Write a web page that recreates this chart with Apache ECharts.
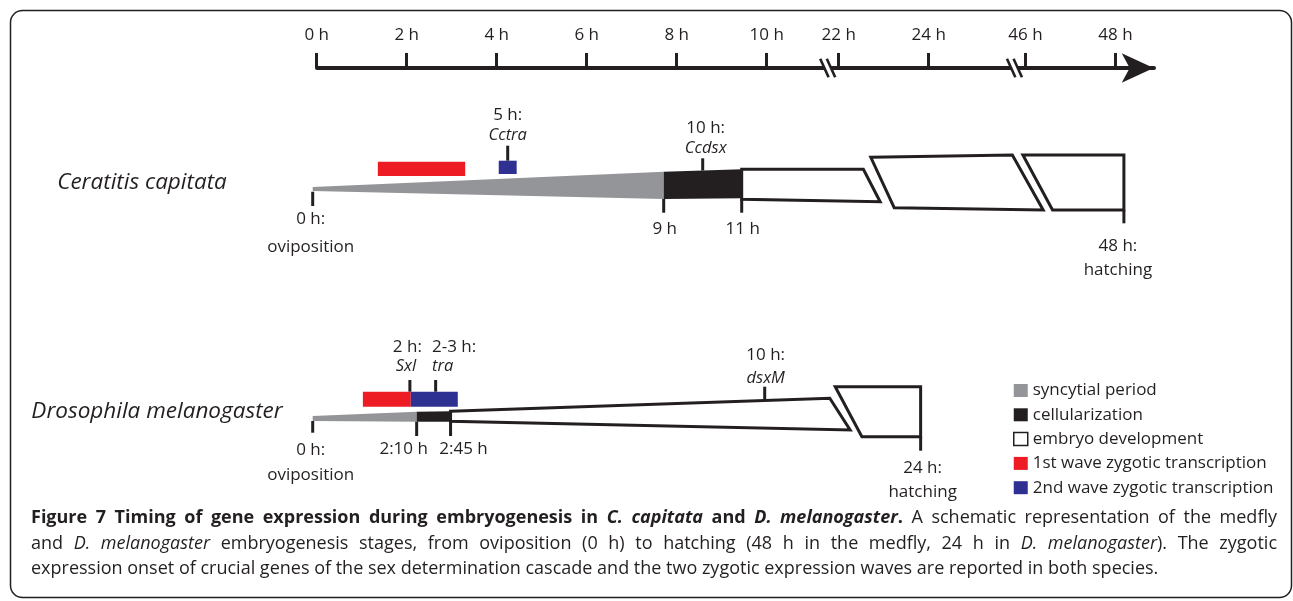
<!DOCTYPE html>
<html><head><meta charset="utf-8">
<script src="https://cdn.jsdelivr.net/npm/echarts@6/dist/echarts.min.js"></script>
<style>html,body{margin:0;padding:0;background:#fff}#c{width:1293px;height:601px}</style>
</head><body><div id="c"></div>
<script>
// ================= DATA =================
// Top reference time axis (hours after oviposition), broken 10–22 h and 24–46 h
const timeTicks = [0, 2, 4, 6, 8, 10, 22, 24, 46, 48];
const timeBreaks = [[10, 22], [24, 46]];

const legendNames = ['syncytial period', 'cellularization', 'embryo development',
  '1st wave zygotic transcription', '2nd wave zygotic transcription'];

// Ceratitis capitata (medfly) — x: hours on its schematic, y: body thickness units
const ccName = 'Ceratitis capitata';
const ccSyncytial = [[0, -2, 9, 13.3, 9, -14, 0, -6]];
const ccCellularization = [[9, 13.3, 11, 15.7, 11, -13.3, 9, -14]];
const ccDevelopment = [
  [11, 15.7, 14.12, 15.7, 14.55, -16.7, 11, -14.3],
  [14.31, 27.7, 17.94, 30, 18.73, -25, 14.91, -22.7],
  [18.21, 30, 20.8, 30, 20.8, -25, 18.97, -25]
];
const ccWave1 = [[1.67, 3.91]];
const ccWave2 = [[4.77, 5.23]];
const ccGeneHours = [5, 10];
const ccGeneTimes = ['5 h:', '10 h:'];
const ccGeneNames = ['Cctra', 'Ccdsx'];
const ccStageHours = [0, 9, 11, 20.8];
const ccStageLabels = [['0 h:', 'oviposition'], ['9 h'], ['11 h'], ['48 h:', 'hatching']];

// Drosophila melanogaster
const dmName = 'Drosophila melanogaster';
const dmSyncytial = [[0, 1, 2.3, 5.3, 2.3, -4.7, 0, -4]];
const dmCellularization = [[2.3, 5.3, 3.05, 5.8, 3.05, -4.7, 2.3, -4.7]];
const dmDevelopment = [
  [3.05, 5.8, 11.44, 18.7, 11.89, -13, 3.05, -4.3],
  [11.56, 30.3, 13.45, 30.3, 13.45, -19.7, 12.15, -19.7]
];
const dmWave1 = [[1.11, 2.17]];
const dmWave2 = [[2.17, 3.21]];
const dmGeneHours = [2.15, 2.72, 10];
const dmGeneTimes = ['2 h:', '2-3 h:', '10 h:'];
const dmGeneNames = ['Sxl', 'tra', 'dsxM'];
const dmStageHours = [0, 2.3, 3.05, 13.45];
const dmStageLabels = [['0 h:', 'oviposition'], ['2:10 h'], ['2:45 h'], ['24 h:', 'hatching']];

const captionRuns = [
  [['b', 'Figure 7 Timing of gene expression during embryogenesis in '], ['bi', 'C. capitata'], ['b', ' and '], ['bi', 'D. melanogaster'], ['b', '.'], ['r', ' A schematic representation of the medfly']],
  [['r', 'and '], ['i', 'D. melanogaster'], ['r', ' embryogenesis stages, from oviposition (0 h) to hatching (48 h in the medfly, 24 h in '], ['i', 'D. melanogaster'], ['r', '). The zygotic']],
  [['r', 'expression onset of crucial genes of the sex determination cascade and the two zygotic expression waves are reported in both species.']]
];

// ================= STYLE / LAYOUT =================
const FF = "'Open Sans'";
const INK = '#231f20', GREY = '#939598', RED = '#ed1c24', BLUE = '#2e3192';
const REG = "17px " + FF, ITAL = "italic 16.5px " + FF;

const L = {
  cc: {
    grid: { left: 312.7, top: 100, width: 858, height: 170 }, xMax: 22, yMax: 85,
    band1: [9, 23.3], band2: [11, 24.3],
    geneTick: [[24.3, 39.3], [14.5, 26.7]],
    geneTextY: [[70, 50], [56.7, 36.7]],
    geneDx: [[0, 0], [3, 3]],
    stageTick: [[-6.7, -21], [-14, -27.7], [-14, -27.7], [-25, -38.3]],
    stageTextY: [[-34, -62], [-44], [-44], [-61, -85]],
    stageDx: [-2, 1, 1, -6]
  },
  dm: {
    grid: { left: 312.7, top: 330, width: 632.8, height: 174 }, xMax: 14, yMax: 87,
    band1: [10.3, 25.3], band2: [10.3, 25.3],
    geneTick: [[25.3, 37], [25.3, 37], [17, 30.3]],
    geneTextY: [[69.5, 50.3], [69.5, 50.3], [62, 38.7]],
    geneDx: [[-2.5, -4], [18.5, 7], [1, 1]],
    stageTick: [[-4, -15.7], [-4.7, -19], [-4.3, -19], [-19.7, -33.7]],
    stageTextY: [[-33, -58], [-32.3], [-32.3], [-51, -75.5]],
    stageDx: [-2, -13, 13, 2]
  }
};

function txtStyle(text, font, align) {
  return { text, font, fill: INK, align: align || 'center', verticalAlign: 'middle',
    textAlign: align || 'center', textVerticalAlign: 'middle' };
}

function polygonSeries(name, gi, polys, fill, stroke) {
  return {
    type: 'custom', name, coordinateSystem: 'cartesian2d', xAxisIndex: gi, yAxisIndex: gi,
    itemStyle: { color: fill, borderColor: stroke || fill }, clip: false, silent: true,
    z: stroke ? 3 : 2, data: polys,
    renderItem(params, api) {
      const pts = [];
      for (let k = 0; k < 4; k++) pts.push(api.coord([api.value(2 * k), api.value(2 * k + 1)]));
      return { type: 'polygon', shape: { points: pts },
        style: { fill, stroke: stroke || null, lineWidth: stroke ? 3 : 0, lineJoin: 'miter' } };
    }
  };
}

function bandSeries(name, gi, spans, color, band) {
  return {
    type: 'custom', name, coordinateSystem: 'cartesian2d', xAxisIndex: gi, yAxisIndex: gi,
    itemStyle: { color }, clip: false, silent: true, z: 4, data: spans,
    renderItem(params, api) {
      const a = api.coord([api.value(0), band[1]]);
      const b = api.coord([api.value(1), band[0]]);
      return { type: 'rect', shape: { x: a[0], y: a[1], width: b[0] - a[0], height: b[1] - a[1] },
        style: { fill: color } };
    }
  };
}

function geneSeries(gi, hours, times, genes, R) {
  return {
    type: 'custom', name: 'gene onset', coordinateSystem: 'cartesian2d', xAxisIndex: gi, yAxisIndex: gi,
    clip: false, silent: true, z: 5, data: hours.map(h => [h]),
    renderItem(params, api) {
      const i = params.dataIndex, h = api.value(0);
      const a = api.coord([h, R.geneTick[i][0]]), b = api.coord([h, R.geneTick[i][1]]);
      const t1 = api.coord([h, R.geneTextY[i][0]]), t2 = api.coord([h, R.geneTextY[i][1]]);
      return { type: 'group', children: [
        { type: 'line', shape: { x1: a[0], y1: a[1], x2: b[0], y2: b[1] }, style: { stroke: INK, lineWidth: 3 } },
        { type: 'text', x: t1[0] + R.geneDx[i][0], y: t1[1], style: txtStyle(times[i], REG) },
        { type: 'text', x: t2[0] + R.geneDx[i][1], y: t2[1], style: txtStyle(genes[i], ITAL) }
      ] };
    }
  };
}

function stageSeries(gi, hours, labels, R) {
  return {
    type: 'custom', name: 'stage marks', coordinateSystem: 'cartesian2d', xAxisIndex: gi, yAxisIndex: gi,
    clip: false, silent: true, z: 5, data: hours.map(h => [h]),
    renderItem(params, api) {
      const i = params.dataIndex, h = api.value(0);
      const a = api.coord([h, R.stageTick[i][0]]), b = api.coord([h, R.stageTick[i][1]]);
      const ch = [{ type: 'line', shape: { x1: a[0], y1: a[1], x2: b[0], y2: b[1] }, style: { stroke: INK, lineWidth: 3 } }];
      labels[i].forEach((s, k) => {
        const p = api.coord([h, R.stageTextY[i][k]]);
        ch.push({ type: 'text', x: p[0] + R.stageDx[i], y: p[1], style: txtStyle(s, REG) });
      });
      return { type: 'group', children: ch };
    }
  };
}

// --------- caption layout (justified, measured) ---------
const mctx = document.createElement('canvas').getContext('2d');
function fontFor(st, size) {
  return (st.includes('i') ? 'italic ' : '') + (st.includes('b') ? 'bold ' : '') + size + 'px ' + FF;
}
function measure(t, f) { mctx.font = f; return mctx.measureText(t).width; }
function splitWords(runs) {
  const words = []; let cur = [];
  runs.forEach(([st, t]) => {
    t.split(' ').forEach((p, i) => {
      if (i > 0) { if (cur.length) words.push(cur); cur = []; }
      if (p) cur.push([st, p]);
    });
  });
  if (cur.length) words.push(cur);
  return words;
}
const capX0 = 31, capX1 = 1277, capLastW = 1166, capY = [518, 543.5, 569];
const capWords = captionRuns.map(splitWords);
function lineWidth(words, size) {
  let w = 0;
  words.forEach(wd => wd.forEach(([st, t]) => { w += measure(t, fontFor(st, size)); }));
  return w + (words.length - 1) * measure(' ', fontFor('r', size));
}
let capSize = 16 * capLastW / lineWidth(capWords[2], 16);
capSize = Math.max(13, Math.min(18, capSize));
const captionEls = [];
capWords.forEach((words, li) => {
  let sum = 0;
  words.forEach(wd => wd.forEach(([st, t]) => { sum += measure(t, fontFor(st, capSize)); }));
  const gap = li < 2 ? (capX1 - capX0 - sum) / (words.length - 1) : measure(' ', fontFor('r', capSize));
  let x = capX0;
  words.forEach(wd => {
    wd.forEach(([st, t]) => {
      const f = fontFor(st, capSize);
      captionEls.push({ type: 'text', x, y: capY[li], style: txtStyle(t, f, 'left') });
      x += measure(t, f);
    });
    x += gap;
  });
});

// ================= CHART =================
const chart = echarts.init(document.getElementById('c'));
const hiddenX = (gi, max) => ({ gridIndex: gi, type: 'value', min: 0, max, show: false, splitLine: { show: false } });
const hiddenY = (gi, m) => ({ gridIndex: gi, type: 'value', min: -m, max: m, show: false, splitLine: { show: false } });

const option = {
  animation: false,
  backgroundColor: '#fff',
  textStyle: { fontFamily: FF },
  grid: [
    { left: 316.7, top: 68, width: 837, height: 20, outerBoundsMode: 'none' },
    Object.assign({ outerBoundsMode: 'none' }, L.cc.grid),
    Object.assign({ outerBoundsMode: 'none' }, L.dm.grid)
  ],
  xAxis: [
    {
      gridIndex: 0, type: 'value', position: 'top', min: 0, max: 48.85,
      breaks: timeBreaks.map(([s, e], i) => ({ start: s, end: e, gap: i === 0 ? 1.6 : 2.15 })),
      breakArea: { show: false },
      axisLine: { show: true, onZero: false, lineStyle: { color: INK, width: 4 }, symbol: ['none', 'arrow'], symbolSize: [22, 32] },
      axisTick: { show: true, customValues: timeTicks, length: 15, lineStyle: { color: INK, width: 3 } },
      axisLabel: { show: true, customValues: timeTicks, formatter: v => v + ' h', margin: 24,
        color: INK, fontSize: 17, fontFamily: FF },
      splitLine: { show: false }
    },
    hiddenX(1, L.cc.xMax),
    hiddenX(2, L.dm.xMax)
  ],
  yAxis: [
    { gridIndex: 0, type: 'value', min: 0, max: 1, show: false, splitLine: { show: false } },
    hiddenY(1, L.cc.yMax),
    hiddenY(2, L.dm.yMax)
  ],
  legend: {
    show: true, orient: 'vertical', left: 1008, top: 377, itemWidth: 14, itemHeight: 13, itemGap: 7.3,
    selectedMode: false, icon: 'rect',
    textStyle: { color: INK, fontSize: 17, fontFamily: FF, lineHeight: 17 },
    data: [
      { name: legendNames[0], itemStyle: { color: GREY, borderWidth: 0 } },
      { name: legendNames[1], itemStyle: { color: INK, borderWidth: 0 } },
      { name: legendNames[2], itemStyle: { color: '#fff', borderColor: INK, borderWidth: 1.5 } },
      { name: legendNames[3], itemStyle: { color: RED, borderWidth: 0 } },
      { name: legendNames[4], itemStyle: { color: BLUE, borderWidth: 0 } }
    ]
  },
  graphic: [
    { type: 'rect', z: -1, shape: { x: 10.5, y: 10.5, width: 1281, height: 587, r: 12 },
      style: { fill: 'none', stroke: INK, lineWidth: 1.5 } },
    { type: 'text', x: 142, y: 183, style: txtStyle(ccName, 'italic 22.5px ' + FF) },
    { type: 'text', x: 157, y: 412, style: txtStyle(dmName, 'italic 22.5px ' + FF) }
  ].concat(captionEls),
  series: [
    // top axis: continue the line through the breaks and draw the break marks
    {
      type: 'custom', name: 'axis breaks', coordinateSystem: 'cartesian2d', xAxisIndex: 0, yAxisIndex: 0,
      clip: false, silent: true, z: 6, data: timeBreaks,
      renderItem(params, api) {
        const b = api.coord([api.value(0), 1]);
        const e = api.coord([api.value(1), 1]);
        const cx = e[0] - 11, cy = e[1], s = 6.6, hx = 4.2, hy = 9.3;
        return { type: 'group', children: [
          { type: 'line', shape: { x1: b[0] - 1, y1: cy, x2: e[0] + 1, y2: cy }, style: { stroke: INK, lineWidth: 4 } },
          { type: 'polygon', shape: { points: [[cx - s / 2 - hx, cy - hy], [cx + s / 2 - hx, cy - hy], [cx + s / 2 + hx, cy + hy], [cx - s / 2 + hx, cy + hy]] }, style: { fill: '#fff' } },
          { type: 'line', shape: { x1: cx - s / 2 - hx, y1: cy - hy, x2: cx - s / 2 + hx, y2: cy + hy }, style: { stroke: INK, lineWidth: 2.6 } },
          { type: 'line', shape: { x1: cx + s / 2 - hx, y1: cy - hy, x2: cx + s / 2 + hx, y2: cy + hy }, style: { stroke: INK, lineWidth: 2.6 } }
        ] };
      }
    },
    polygonSeries(legendNames[0], 1, ccSyncytial, GREY),
    polygonSeries(legendNames[1], 1, ccCellularization, INK),
    polygonSeries(legendNames[2], 1, ccDevelopment, '#fff', INK),
    bandSeries(legendNames[3], 1, ccWave1, RED, L.cc.band1),
    bandSeries(legendNames[4], 1, ccWave2, BLUE, L.cc.band2),
    geneSeries(1, ccGeneHours, ccGeneTimes, ccGeneNames, L.cc),
    stageSeries(1, ccStageHours, ccStageLabels, L.cc),
    polygonSeries(legendNames[0], 2, dmSyncytial, GREY),
    polygonSeries(legendNames[1], 2, dmCellularization, INK),
    polygonSeries(legendNames[2], 2, dmDevelopment, '#fff', INK),
    bandSeries(legendNames[3], 2, dmWave1, RED, L.dm.band1),
    bandSeries(legendNames[4], 2, dmWave2, BLUE, L.dm.band2),
    geneSeries(2, dmGeneHours, dmGeneTimes, dmGeneNames, L.dm),
    stageSeries(2, dmStageHours, dmStageLabels, L.dm)
  ]
};
chart.setOption(option);
</script>
</body></html>
